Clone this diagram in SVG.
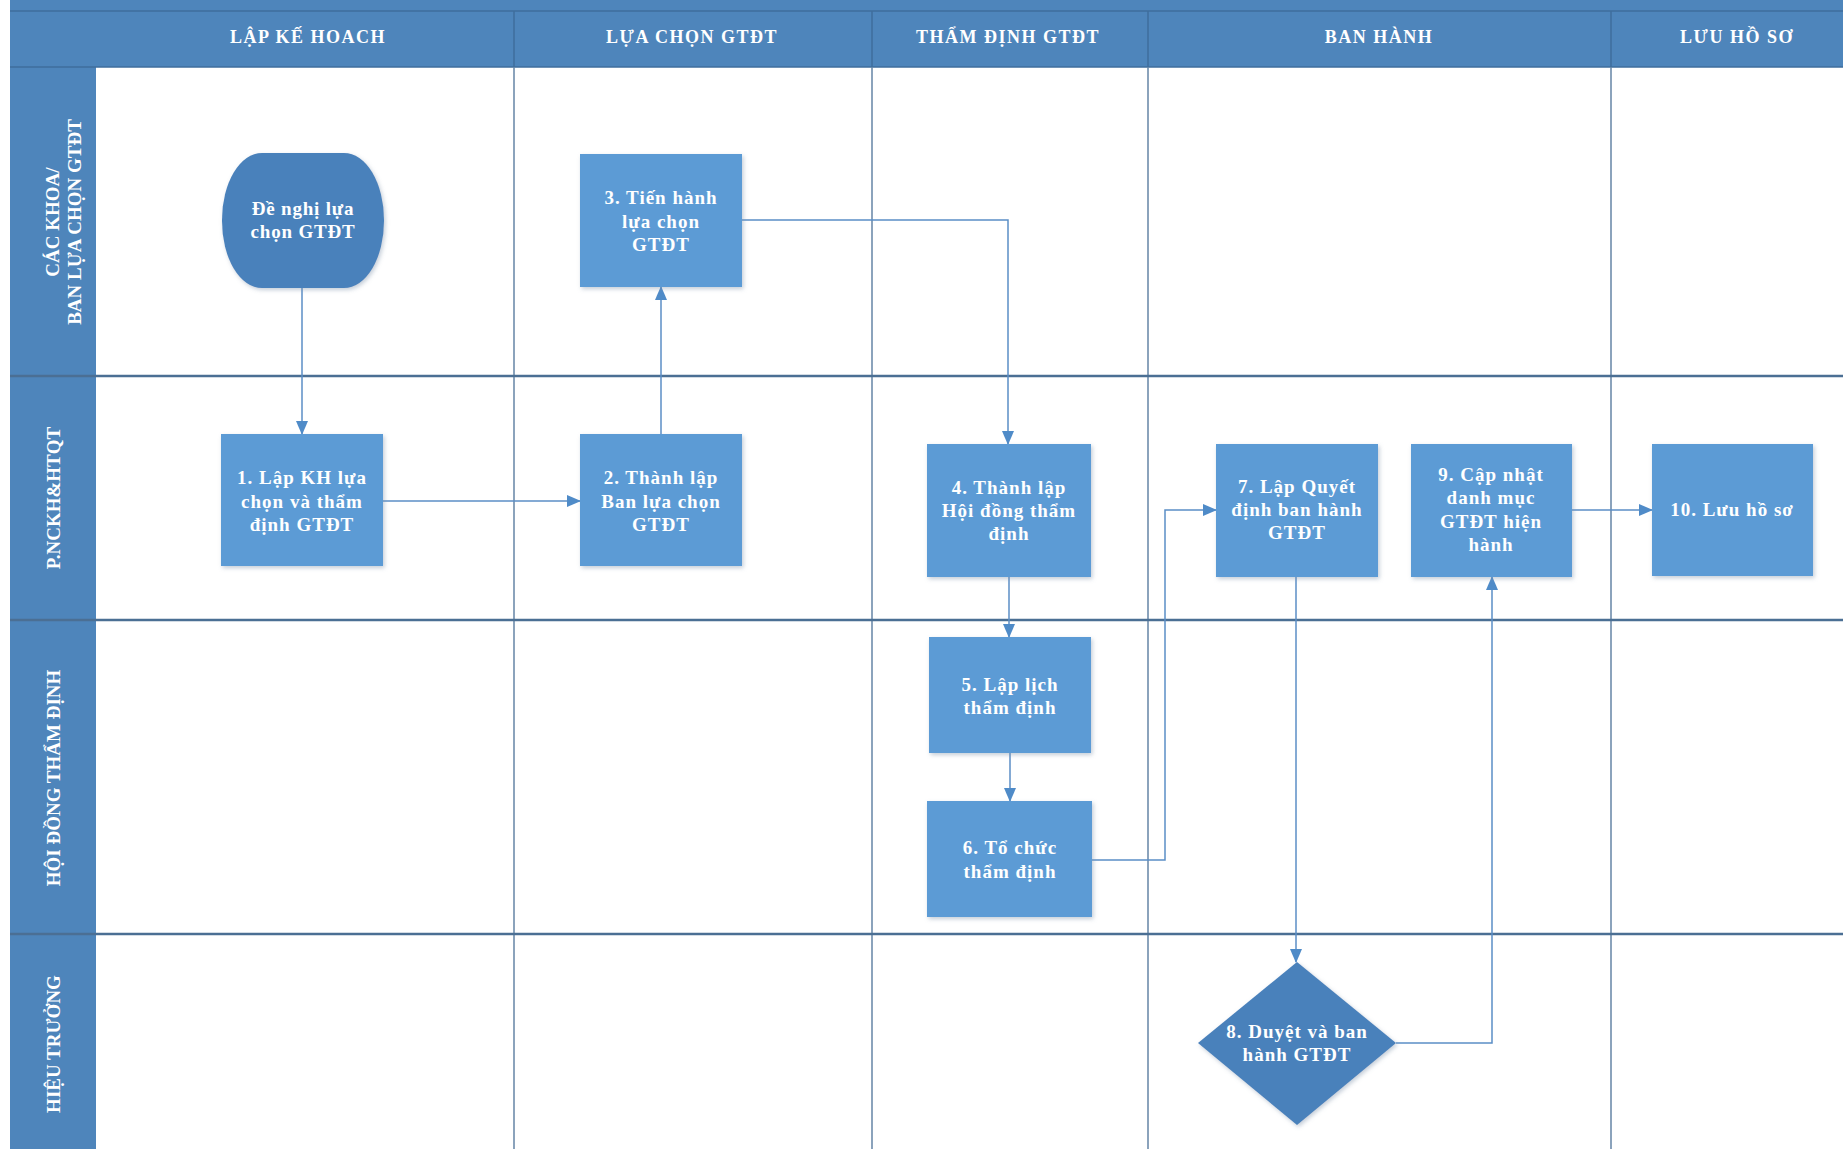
<svg xmlns="http://www.w3.org/2000/svg" width="1843" height="1149" viewBox="0 0 1843 1149">
<style>
.band{fill:#4e85bb}
.hdr{font-family:"Liberation Serif",serif;font-weight:bold;font-size:18px;fill:#ffffff;text-anchor:middle;letter-spacing:1.5px}
.lane{font-family:"Liberation Serif",serif;font-weight:bold;font-size:19px;fill:#ffffff;text-anchor:middle}
.grid{stroke:#6585a6;stroke-width:1.5;fill:none}
.hline{stroke:#4b6f94;stroke-width:2.5;fill:none}
.hdiv{stroke:#3f6e9d;stroke-width:1.5;fill:none}
.box{fill:#5b9bd5;filter:url(#sh)}
.dark{fill:#4a81bb;filter:url(#sh)}
.t{font-family:"Liberation Serif",serif;font-weight:bold;font-size:19px;fill:#ffffff;text-anchor:middle;letter-spacing:1px}
.ts{font-family:"Liberation Serif",serif;font-weight:bold;font-size:19px;fill:#ffffff;text-anchor:middle;letter-spacing:0.8px}
.c{stroke:#5b8ec6;stroke-width:1.5;fill:none}
</style>
<defs>
<filter id="sh" x="-10%" y="-10%" width="125%" height="125%">
<feDropShadow dx="1.5" dy="2" stdDeviation="2" flood-color="#7a8fa8" flood-opacity="0.45"/>
</filter>
<marker id="ah" markerWidth="14" markerHeight="12" refX="13" refY="6" orient="auto" markerUnits="userSpaceOnUse">
<path d="M0,0 L14,6 L0,12 Z" fill="#4f8bc8"/>
</marker>
</defs>
<rect x="0" y="0" width="1843" height="1149" fill="#ffffff"/>
<g id="lanes">
<rect class="band" x="10" y="0" width="1833" height="67"/>
<rect class="band" x="10" y="67" width="86" height="1082"/>
<line class="hdiv" x1="10" y1="11" x2="1843" y2="11"/>
<line class="hdiv" x1="514" y1="11" x2="514" y2="67"/>
<line class="hdiv" x1="872" y1="11" x2="872" y2="67"/>
<line class="hdiv" x1="1148" y1="11" x2="1148" y2="67"/>
<line class="hdiv" x1="1611" y1="11" x2="1611" y2="67"/>
<line class="hdiv" x1="10" y1="67" x2="1843" y2="67"/>
<line class="grid" x1="514" y1="67" x2="514" y2="1149"/>
<line class="grid" x1="872" y1="67" x2="872" y2="1149"/>
<line class="grid" x1="1148" y1="67" x2="1148" y2="1149"/>
<line class="grid" x1="1611" y1="67" x2="1611" y2="1149"/>
<line class="hline" x1="10" y1="376" x2="1843" y2="376"/>
<line class="hline" x1="10" y1="620" x2="1843" y2="620"/>
<line class="hline" x1="10" y1="934" x2="1843" y2="934"/>
<text class="hdr" x="308" y="43">LẬP KẾ HOACH</text>
<text class="hdr" x="692" y="43">LỰA CHỌN GTĐT</text>
<text class="hdr" x="1008" y="43">THẨM ĐỊNH GTĐT</text>
<text class="hdr" x="1379" y="43">BAN HÀNH</text>
<text class="hdr" x="1737" y="43">LƯU HỒ SƠ</text>
<text class="lane" transform="translate(59,222) rotate(-90)">CÁC KHOA/</text>
<text class="lane" transform="translate(81,222) rotate(-90)">BAN LỰA CHỌN GTĐT</text>
<text class="lane" transform="translate(60,498) rotate(-90)">P.NCKH&amp;HTQT</text>
<text class="lane" transform="translate(60,778) rotate(-90)">HỘI ĐỒNG THẨM ĐỊNH</text>
<text class="lane" transform="translate(60,1044) rotate(-90)">HIỆU TRƯỞNG</text>
</g>
<g id="connectors">
<path class="c" d="M302,288 L302,434" marker-end="url(#ah)"/>
<path class="c" d="M383,501 L580,501" marker-end="url(#ah)"/>
<path class="c" d="M661,434 L661,287" marker-end="url(#ah)"/>
<path class="c" d="M742,220 L1008,220 L1008,444" marker-end="url(#ah)"/>
<path class="c" d="M1009,577 L1009,637" marker-end="url(#ah)"/>
<path class="c" d="M1010,753 L1010,801" marker-end="url(#ah)"/>
<path class="c" d="M1092,860 L1165,860 L1165,510 L1216,510" marker-end="url(#ah)"/>
<path class="c" d="M1296,577 L1296,962" marker-end="url(#ah)"/>
<path class="c" d="M1396,1043 L1492,1043 L1492,577" marker-end="url(#ah)"/>
<path class="c" d="M1572,510 L1652,510" marker-end="url(#ah)"/>
</g>
<g id="start">
<rect class="dark" x="222" y="153" width="162" height="135" rx="40" ry="67"/>
<text class="ts" x="303" y="215">Đề nghị lựa</text>
<text class="ts" x="303" y="238">chọn GTĐT</text>
</g>
<g id="n1">
<rect class="box" x="221" y="434" width="162" height="132"/>
<text class="t" x="302" y="484">1. Lập KH lựa</text>
<text class="t" x="302" y="508">chọn và thẩm</text>
<text class="t" x="302" y="531">định GTĐT</text>
</g>
<g id="n2">
<rect class="box" x="580" y="434" width="162" height="132"/>
<text class="t" x="661" y="484">2. Thành lập</text>
<text class="t" x="661" y="508">Ban lựa chọn</text>
<text class="t" x="661" y="531">GTĐT</text>
</g>
<g id="n3">
<rect class="box" x="580" y="154" width="162" height="133"/>
<text class="t" x="661" y="204">3. Tiến hành</text>
<text class="t" x="661" y="228">lựa chọn</text>
<text class="t" x="661" y="251">GTĐT</text>
</g>
<g id="n4">
<rect class="box" x="927" y="444" width="164" height="133"/>
<text class="t" x="1009" y="494">4. Thành lập</text>
<text class="t" x="1009" y="517">Hội đồng thẩm</text>
<text class="t" x="1009" y="540">định</text>
</g>
<g id="n5">
<rect class="box" x="929" y="637" width="162" height="116"/>
<text class="t" x="1010" y="691">5. Lập lịch</text>
<text class="t" x="1010" y="714">thẩm định</text>
</g>
<g id="n6">
<rect class="box" x="927" y="801" width="165" height="116"/>
<text class="t" x="1010" y="854">6. Tổ chức</text>
<text class="t" x="1010" y="878">thẩm định</text>
</g>
<g id="n7">
<rect class="box" x="1216" y="444" width="162" height="133"/>
<text class="t" x="1297" y="493">7. Lập Quyết</text>
<text class="t" x="1297" y="516">định ban hành</text>
<text class="t" x="1297" y="539">GTĐT</text>
</g>
<g id="n8">
<polygon class="dark" points="1297,962 1396,1043 1297,1125 1198,1043"/>
<text class="t" x="1297" y="1038">8. Duyệt và ban</text>
<text class="t" x="1297" y="1061">hành GTĐT</text>
</g>
<g id="n9">
<rect class="box" x="1411" y="444" width="161" height="133"/>
<text class="t" x="1491" y="481">9. Cập nhật</text>
<text class="t" x="1491" y="504">danh mục</text>
<text class="t" x="1491" y="528">GTĐT hiện</text>
<text class="t" x="1491" y="551">hành</text>
</g>
<g id="n10">
<rect class="box" x="1652" y="444" width="161" height="132"/>
<text class="t" x="1732" y="516">10. Lưu hồ sơ</text>
</g>
</svg>
